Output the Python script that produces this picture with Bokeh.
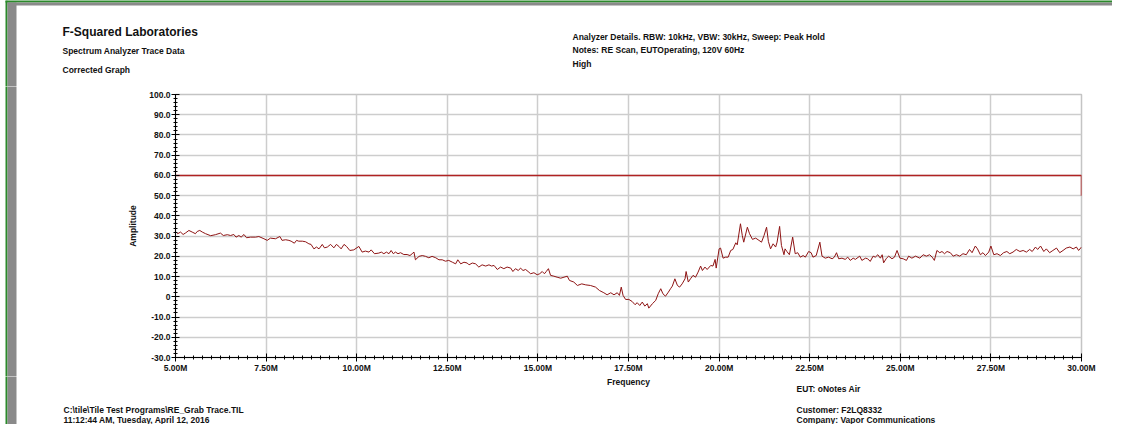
from bokeh.plotting import figure
from bokeh.models import Range1d, FixedTicker, BoxAnnotation
from bokeh.layouts import column, row
from bokeh.core.properties import value
from bokeh.embed import file_html
from bokeh.resources import INLINE

# ---------------- data ----------------
freq_mhz = [
    5.00, 5.06, 5.14, 5.21, 5.28, 5.37, 5.46, 5.55, 5.60, 5.67,
    5.74, 5.83, 5.97, 6.10, 6.24, 6.32, 6.43, 6.52, 6.61, 6.67,
    6.75, 6.81, 6.89, 6.96, 7.07, 7.21, 7.30, 7.44, 7.53, 7.62,
    7.76, 7.88, 7.94, 8.04, 8.13, 8.19, 8.28, 8.34, 8.40, 8.50,
    8.59, 8.68, 8.74, 8.82, 8.89, 8.96, 9.05, 9.11, 9.19, 9.28,
    9.37, 9.44, 9.51, 9.57, 9.65, 9.72, 9.81, 9.92, 10.06, 10.15,
    10.24, 10.34, 10.40, 10.49, 10.61, 10.68, 10.75, 10.82, 10.89, 10.95,
    11.01, 11.07, 11.14, 11.21, 11.30, 11.39, 11.47, 11.53, 11.58, 11.62,
    11.72, 11.81, 11.90, 11.99, 12.08, 12.18, 12.27, 12.36, 12.45, 12.54,
    12.64, 12.73, 12.79, 12.87, 12.96, 13.05, 13.10, 13.19, 13.28, 13.37,
    13.46, 13.56, 13.65, 13.72, 13.79, 13.88, 13.97, 14.06, 14.15, 14.25,
    14.31, 14.38, 14.46, 14.52, 14.59, 14.66, 14.73, 14.80, 14.89, 14.98,
    15.05, 15.12, 15.18, 15.23, 15.29, 15.35, 15.44, 15.53, 15.63, 15.72,
    15.81, 15.87, 15.99, 16.09, 16.21, 16.32, 16.45, 16.59, 16.70, 16.82,
    16.91, 17.01, 17.10, 17.19, 17.25, 17.30, 17.35, 17.42, 17.51, 17.60,
    17.68, 17.74, 17.81, 17.88, 17.95, 18.02, 18.06, 18.16, 18.25, 18.32,
    18.39, 18.45, 18.52, 18.60, 18.66, 18.71, 18.78, 18.85, 18.91, 18.98,
    19.06, 19.09, 19.15, 19.21, 19.28, 19.35, 19.42, 19.49, 19.54, 19.61,
    19.67, 19.77, 19.83, 19.89, 19.92, 20.00, 20.04, 20.11, 20.18, 20.25,
    20.32, 20.38, 20.46, 20.50, 20.59, 20.64, 20.68, 20.78, 20.84, 20.92,
    21.01, 21.10, 21.17, 21.24, 21.31, 21.36, 21.42, 21.49, 21.56, 21.60,
    21.67, 21.72, 21.79,
    21.82, 21.87, 21.94, 22.03, 22.10, 22.17, 22.24, 22.32, 22.38, 22.47,
    22.54, 22.59, 22.68, 22.78, 22.84, 22.93, 23.02, 23.12, 23.18, 23.24,
    23.30, 23.39, 23.48, 23.55, 23.62, 23.70, 23.76, 23.88, 23.94, 24.04,
    24.10, 24.17, 24.25, 24.31, 24.38, 24.45, 24.50, 24.54, 24.62, 24.68,
    24.77, 24.84, 24.91, 24.99, 25.08, 25.17, 25.23, 25.32, 25.42, 25.54,
    25.63, 25.72, 25.81, 25.88, 25.94, 26.01, 26.09, 26.15, 26.22, 26.29,
    26.38, 26.46, 26.55, 26.64, 26.73, 26.82, 26.91, 26.98, 27.07, 27.13,
    27.21, 27.28, 27.35, 27.44, 27.50, 27.58, 27.67, 27.76, 27.85, 27.94,
    28.02, 28.11, 28.20, 28.30, 28.39, 28.48, 28.57, 28.64, 28.73, 28.79,
    28.87, 28.96, 29.03, 29.12, 29.21, 29.31, 29.40, 29.49, 29.58, 29.68,
    29.77, 29.86, 29.92, 30.00,
]

amplitude = [
    32.3, 31.2, 32.0, 30.8, 31.6, 32.8, 32.0, 31.2, 32.3, 32.8,
    32.0, 31.2, 30.2, 30.7, 31.5, 30.3, 30.7, 30.3, 30.8, 29.5,
    30.3, 29.5, 30.8, 29.2, 29.5, 29.5, 29.8, 28.7, 27.9, 29.0,
    28.7, 29.8, 27.9, 28.2, 27.9, 27.5, 26.5, 27.9, 27.5, 27.5,
    27.2, 26.2, 25.9, 23.7, 24.6, 23.7, 25.9, 24.2, 24.6, 25.9,
    24.2, 25.9, 24.9, 23.7, 25.9, 24.9, 22.9, 23.2, 24.9, 22.1,
    22.6, 22.1, 23.2, 21.3, 21.6, 22.1, 21.3, 22.1, 21.3, 22.9,
    21.3, 22.1, 21.3, 21.8, 20.9, 20.9, 20.4, 21.3, 22.1, 18.3,
    20.0, 20.4, 20.0, 19.3, 20.0, 19.3, 18.3, 18.3, 17.6, 18.0,
    17.1, 16.3, 18.3, 16.3, 17.1, 16.7, 15.8, 16.7, 16.3, 14.7,
    15.8, 15.2, 15.8, 15.2, 15.5, 13.5, 14.7, 13.9, 14.7, 14.2,
    12.5, 13.9, 13.0, 14.2, 13.0, 13.5, 12.5, 11.4, 11.9, 10.9,
    11.4, 12.5, 11.4, 12.5, 13.9, 10.6, 10.2, 9.7, 9.2, 9.7,
    10.2, 8.1, 7.3, 5.6, 6.4, 5.9, 5.6, 4.8, 3.1, 2.0,
    1.0, 2.0, 1.0, 2.0, 0.7, 4.8, 0.7, -1.3, -1.3, -2.3,
    -3.9, -2.9, -4.3, -2.6, -4.6, -3.4, -5.6, -3.4, -1.8, 1.5,
    4.0, 1.5, 0.3, 2.3, 4.0, 5.3, 8.9, 5.6, 4.8, 6.4,
    8.9, 12.5, 7.3, 8.9, 10.6, 9.7, 12.2, 15.2, 13.0, 14.7,
    13.5, 15.5, 15.2, 18.5, 14.2, 23.7, 24.1, 19.1, 19.6, 19.6,
    22.9, 23.4, 26.7, 25.7, 36.1, 30.3, 27.0, 34.4, 31.2, 28.4,
    29.0, 27.9, 27.0, 30.3, 34.4, 27.4, 23.7, 26.2, 24.6, 27.0,
    34.8, 25.4, 20.8,
    23.7, 22.4, 20.8, 29.5, 21.3, 21.8, 19.6, 20.4, 19.6, 22.4,
    21.8, 19.6, 20.4, 27.0, 20.1, 19.1, 19.6, 18.8, 19.6, 21.8,
    18.8, 19.1, 18.5, 19.6, 18.0, 19.1, 18.5, 20.1, 18.0, 19.1,
    18.8, 17.5, 20.1, 19.6, 20.8, 19.1, 20.8, 16.8, 19.1, 20.1,
    18.8, 19.6, 22.9, 19.1, 18.8, 18.0, 20.1, 19.1, 20.1, 19.1,
    20.8, 20.1, 20.8, 19.6, 18.0, 22.9, 21.8, 22.4, 21.3, 22.4,
    21.8, 20.1, 20.8, 20.1, 21.3, 20.8, 23.4, 21.8, 25.1, 23.7,
    20.8, 21.8, 20.4, 22.1, 25.1, 20.8, 21.3, 20.4, 21.8, 22.4,
    21.3, 22.1, 23.4, 22.4, 22.9, 22.1, 23.4, 22.4, 24.6, 23.4,
    25.1, 22.4, 23.7, 21.8, 22.9, 24.1, 21.8, 22.9, 24.1, 24.6,
    23.7, 24.6, 22.9, 24.6,
]

limit_freq = [5, 30, 30]
limit_amp = [60, 60, 50]

x_ticks = [5, 7.5, 10, 12.5, 15, 17.5, 20, 22.5, 25, 27.5, 30]
x_tick_labels = ["5.00M", "7.50M", "10.00M", "12.50M", "15.00M", "17.50M",
                 "20.00M", "22.50M", "25.00M", "27.50M", "30.00M"]
y_ticks = [-30, -20, -10, 0, 10, 20, 30, 40, 50, 60, 70, 80, 90, 100]
y_tick_labels = ["-30.0", "-20.0", "-10.0", "0", "10.0", "20.0", "30.0",
                 "40.0", "50.0", "60.0", "70.0", "80.0", "90.0", "100.0"]

title_text = "F-Squared Laboratories"
header_left = ["Spectrum Analyzer Trace Data", "Corrected Graph"]
header_right = ["Analyzer Details.  RBW: 10kHz, VBW: 30kHz, Sweep: Peak Hold",
                "Notes:  RE Scan, EUTOperating, 120V 60Hz",
                "High"]
x_axis_title = "Frequency"
y_axis_title = "Amplitude"
footer_right = ["EUT: oNotes Air", "Customer: F2LQ8332", "Company: Vapor Communications"]
footer_left = ["C:\\tile\\Tile Test Programs\\RE_Grab Trace.TIL",
               "11:12:44 AM, Tuesday, April 12, 2016"]

# ---------------- page geometry ----------------
FONT = "Liberation Sans"
TEXT_COLOR = "#111111"
GREEN = "#2b8a2b"
GREY = "#8a8a8a"
W, H = 1112, 424
HEADER_H = 86
FOOTER_TOP = 376
MAIN_H = FOOTER_TOP - HEADER_H
FOOTER_H = H - FOOTER_TOP
STRIP_W = 17


def blank(width, height):
    f = figure(width=width, height=height,
               x_range=Range1d(0, width), y_range=Range1d(height, 0),
               x_axis_type=None, y_axis_type=None,
               toolbar_location=None, output_backend="svg", min_border=0,
               frame_align=False)
    f.outline_line_color = None
    f.background_fill_color = "white"
    f.border_fill_color = "white"
    return f


def page_edge(f, height, with_top=False):
    f.add_layout(BoxAnnotation(left=5, right=7, top=-3 if not with_top else 0,
                               bottom=height + 3,
                               fill_color=GREEN, fill_alpha=1, line_color=None))
    f.add_layout(BoxAnnotation(left=7, right=16, top=2 if with_top else -3,
                               bottom=height + 3,
                               fill_color=GREY, fill_alpha=1, line_color=None))
    if with_top:
        f.add_layout(BoxAnnotation(left=5, right=W + 3, top=-3, bottom=2,
                                   fill_color=GREEN, fill_alpha=1, line_color=None))
        f.add_layout(BoxAnnotation(left=7, right=W + 3, top=2, bottom=5,
                                   fill_color=GREY, fill_alpha=1, line_color=None))


def write(f, x, y, txt, size="8.5px", align="left"):
    f.text(x=[x], y=[y], text=[txt], text_font=value(FONT),
           text_font_style="bold", text_font_size=size, text_color=TEXT_COLOR,
           text_align=align, text_baseline="middle")


# ---------------- header ----------------
header = blank(W, HEADER_H)
page_edge(header, HEADER_H, with_top=True)
write(header, 62, 31.5, title_text, size="12px")
write(header, 62, 50, header_left[0])
write(header, 62, 69, header_left[1])
write(header, 572, 36, header_right[0])
write(header, 572, 49.5, header_right[1])
write(header, 572, 63, header_right[2])

# ---------------- main chart ----------------
strip = blank(STRIP_W, MAIN_H)
page_edge(strip, MAIN_H)

p = figure(width=W - STRIP_W, height=MAIN_H,
           x_range=Range1d(5, 30), y_range=Range1d(-30, 100),
           output_backend="svg", toolbar_location=None, frame_align=False,
           min_border_left=175 - STRIP_W, min_border_right=W - 1081,
           min_border_top=94 - HEADER_H, min_border_bottom=FOOTER_TOP - 357)
p.background_fill_color = "white"
p.border_fill_color = "white"
p.outline_line_color = "#c4c4c4"
p.outline_line_width = 1.5

p.xgrid.grid_line_color = "#cdcdcd"
p.xgrid.grid_line_width = 1.5
p.ygrid.grid_line_color = "#cdcdcd"
p.ygrid.grid_line_width = 1.5

x_minor = [5 + 0.25 * i for i in range(101)]
y_minor = [-30 + 2 * i for i in range(66)]
p.xaxis.ticker = FixedTicker(ticks=x_ticks, minor_ticks=x_minor)
p.yaxis.ticker = FixedTicker(ticks=y_ticks, minor_ticks=y_minor)
p.xaxis.major_label_overrides = dict(zip(x_ticks, x_tick_labels))
p.yaxis.major_label_overrides = dict(zip(y_ticks, y_tick_labels))

for ax in (p.xaxis, p.yaxis):
    ax.axis_line_color = "black"
    ax.axis_line_width = 1
    ax.major_tick_line_color = "black"
    ax.minor_tick_line_color = "black"
    ax.major_tick_in = 4
    ax.major_tick_out = 4
    ax.minor_tick_in = 2
    ax.minor_tick_out = 2
    ax.major_label_text_font = FONT
    ax.major_label_text_font_style = "bold"
    ax.major_label_text_font_size = "8.5px"
    ax.major_label_text_color = TEXT_COLOR
    ax.axis_label_text_font = FONT
    ax.axis_label_text_font_style = "bold"
    ax.axis_label_text_font_size = "8.5px"
    ax.axis_label_text_color = TEXT_COLOR

p.yaxis.axis_label = y_axis_title
p.yaxis.major_label_standoff = 1
p.yaxis.axis_label_standoff = 8
p.xaxis.major_label_standoff = 1

p.line(limit_freq, limit_amp, line_color="#b02222", line_width=1.5)
p.line(freq_mhz, amplitude, line_color="#8e1414", line_width=1)

# ---------------- footer ----------------
footer = blank(W, FOOTER_H)
page_edge(footer, FOOTER_H)
write(footer, 628, 381.5 - FOOTER_TOP, x_axis_title, align="center")
write(footer, 796, 388 - FOOTER_TOP, footer_right[0])
write(footer, 796, 409 - FOOTER_TOP, footer_right[1])
write(footer, 796, 419.5 - FOOTER_TOP, footer_right[2])
write(footer, 63, 409 - FOOTER_TOP, footer_left[0])
write(footer, 63, 419.5 - FOOTER_TOP, footer_left[1])

layout = column(header, row(strip, p), footer)

open("out.html", "w").write(file_html(layout, INLINE))
